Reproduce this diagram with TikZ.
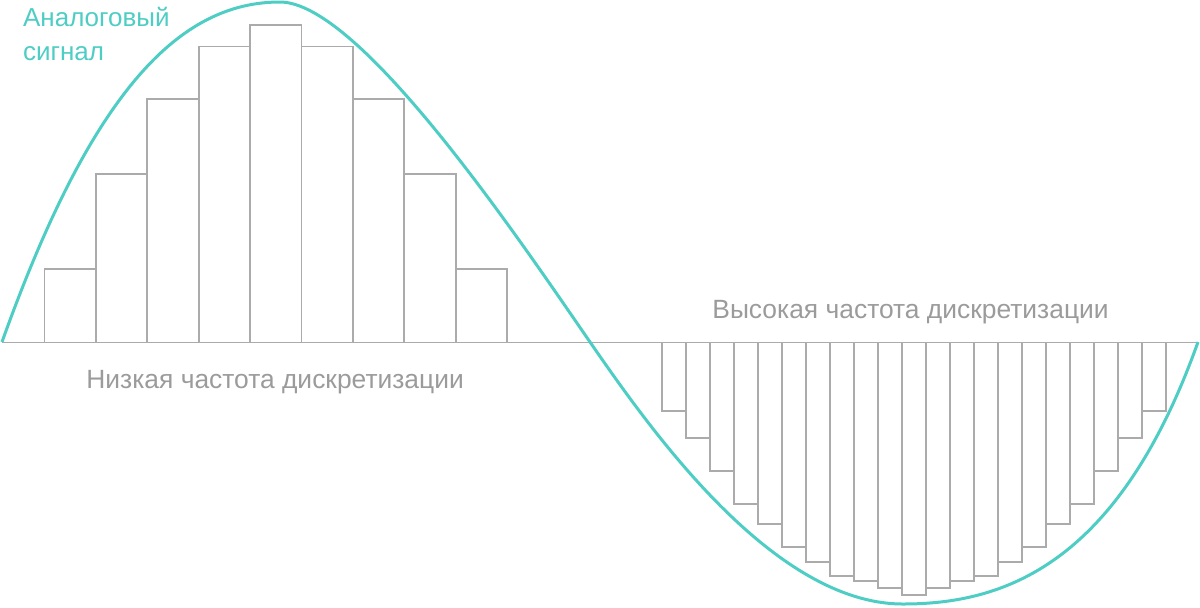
\documentclass[tikz,border=0pt]{standalone}
\usepackage{fontspec}
\setmainfont{Liberation Sans}
\definecolor{teal1}{HTML}{4ECDC4}
\definecolor{bargray}{HTML}{ABABAB}
\definecolor{txtgray}{HTML}{9B9B9B}
\begin{document}
\begin{tikzpicture}[x=0.5pt,y=-0.5pt,
  bar/.style={draw=bargray, line width=0.85pt},
  wave/.style={draw=teal1, line width=1.5pt},
  lbl/.style={anchor=base west, inner sep=0pt, font=\fontsize{13pt}{17pt}\selectfont},
  glbl/.style={anchor=base west, inner sep=0pt, text=txtgray, font=\fontsize{13.2pt}{17pt}\selectfont}]
\useasboundingbox (0,0) rectangle (1200,607);
\coordinate (a0) at (2,342.5);
\coordinate (a1) at (1198,342.5);
\draw[bar] (a0) -- (a1);
% low sampling rate bars
\foreach \t [count=\i from 0] in {269,174.3,99.3,46.6,25.3,46.6,99.3,174.3,269}
  \draw[bar] ({44.5+51.4*\i},342.5) rectangle ({44.5+51.4*(\i+1)},\t);
% high sampling rate bars
\foreach \b [count=\i from 0] in {411,438.3,471.3,503.7,524,546.7,562,576,581,587.7,594.7,587.7,581,576,562,546.7,524,503.7,471.3,438.3,411}
  \draw[bar] ({661.7+24*\i},342.5) rectangle ({661.7+24*(\i+1)},\b);
% analog signal
\coordinate (s0) at (2,342);
\coordinate (s1) at (280,2);
\coordinate (s2) at (590,342);
\coordinate (s3) at (903,604);
\coordinate (s4) at (1198,342);
\draw[wave] (s0) .. controls (92,90) and (180,2) .. (s1)
  .. controls (360,2) and (520,240.5) .. (s2)
  .. controls (650,429) and (773,604) .. (s3)
  .. controls (1003,604) and (1118,566) .. (s4);
% labels
\node[lbl, text=teal1] (t1) at (22.7,26) {Аналоговый};
\node[lbl, text=teal1] (t2) at (22.7,60) {сигнал};
\node[glbl] (low) at (86,388) {Низкая частота дискретизации};
\node[glbl] (high) at (712,318) {Высокая частота дискретизации};
\end{tikzpicture}
\end{document}
